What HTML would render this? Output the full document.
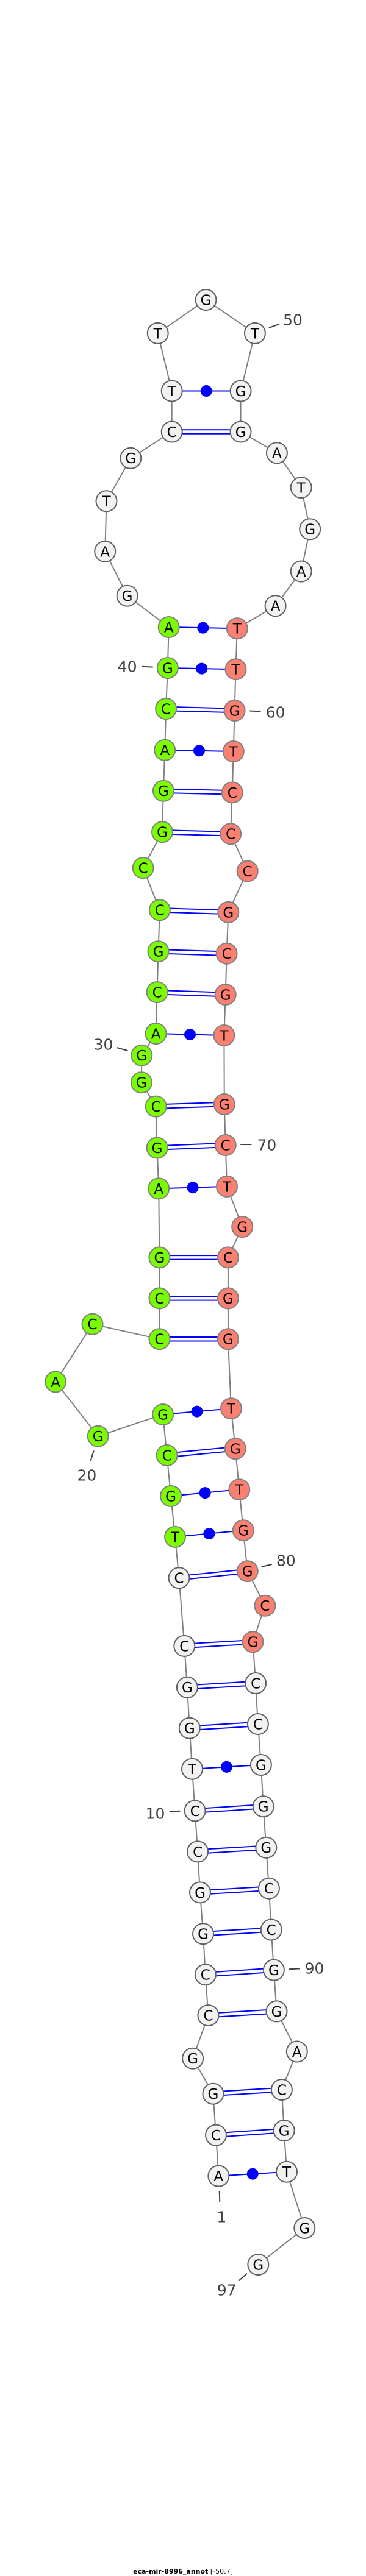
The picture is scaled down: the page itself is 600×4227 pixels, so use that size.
<!DOCTYPE html>
<html><head><meta charset="utf-8"><style>
html,body{margin:0;padding:0;background:#fff;}
svg{display:block;}
.bb{fill:none;stroke:#808080;stroke-width:2;}
.p1{stroke:#0000ff;stroke-width:8.5;}
.p2{stroke:#ffffff;stroke-width:4.5;}
.ps{stroke:#0000ff;stroke-width:2;}
.d{fill:#0000ff;}
.n circle{stroke-width:2;}
.w{fill:#f2f2f2;stroke:#606060;}
.g{fill:#7cfc00;stroke:#808080;}
.r{fill:#fa8072;stroke:#808080;}
.n text{font-family:"DejaVu Sans","Liberation Sans",sans-serif;font-size:23px;text-anchor:middle;fill:#000;}
.lb{font-family:"DejaVu Sans","Liberation Sans",sans-serif;font-size:25px;fill:#404040;text-anchor:middle;dominant-baseline:central;}
.tk{stroke:#404040;stroke-width:2;}
</style></head><body>
<svg width="600" height="4227" viewBox="0 0 600 4227" xmlns="http://www.w3.org/2000/svg">
<polyline class="bb" points="358.3,3570.6 354,3503.6 349.4,3435.7 316.1,3377.7 341.4,3307.1 336.8,3240.2 333,3173.2 328,3105.4 324.1,3038.4 319.6,2971.4 315,2902.7 310.8,2835.7 306.9,2768.8 302.3,2700.9 293.5,2589.3 287,2521.9 280.1,2454.9 273.6,2388 267.1,2321 160.7,2356.7 91.1,2267.4 151.5,2172.8 261.4,2197.3 261.4,2130.4 261.4,2063.4 260.2,1950.4 257.6,1883.5 255.6,1815.6 231.9,1776.3 232.3,1731.7 255.6,1696 257.6,1628.1 259.5,1561.2 261.8,1493.3 234.6,1424.1 266,1365.2 267.9,1297.8 270.2,1230.8 272.1,1163 274.8,1096 276.7,1029 208.6,977.7 172.2,904.9 174.5,822.3 214.3,751.8 281.7,708.5 281.7,641.5 258.7,546.9 337.5,492 417.9,546.9 394.6,641.5 394.6,708.5 453.9,743.3 493.7,800 508.2,868.3 493.7,937.5 451.6,994.2 388.8,1031.3 386.5,1098.2 384.6,1166 382.7,1233 380.8,1300.4 378.1,1368.3 405.7,1429.5 374.3,1496.9 371.6,1564.7 369.7,1632 367.4,1699 367.8,1812 369.7,1879 372,1946.9 397.2,2013 373.9,2063.4 373.9,2130.4 373.9,2197.3 378.9,2311.2 385.8,2377.2 392.3,2444.2 398.8,2511.2 405.7,2578.1 434.4,2634.8 414.5,2694.2 419.1,2762 422.9,2829 427.9,2896 431.7,2964.3 436.3,3031.7 440.9,3098.7 444.7,3166.5 448.9,3232.6 453.5,3300.4 486.8,3366.5 461.9,3429 465.7,3496 470,3563.8 499.3,3656 423.3,3716"/>
<g>
<!-- double pairs -->
<g class="p1">
<line x1="354" y1="3503.6" x2="465.7" y2="3496"/><line x1="349.4" y1="3435.7" x2="461.9" y2="3429"/>
<line x1="341.4" y1="3307.1" x2="453.5" y2="3300.4"/><line x1="336.8" y1="3240.2" x2="448.9" y2="3232.6"/>
<line x1="333" y1="3173.2" x2="444.7" y2="3166.5"/><line x1="328" y1="3105.4" x2="440.9" y2="3098.7"/>
<line x1="324.1" y1="3038.4" x2="436.3" y2="3031.7"/><line x1="319.6" y1="2971.4" x2="431.7" y2="2964.3"/>
<line x1="310.8" y1="2835.7" x2="422.9" y2="2829"/><line x1="306.9" y1="2768.8" x2="419.1" y2="2762"/>
<line x1="302.3" y1="2700.9" x2="414.5" y2="2694.2"/><line x1="293.5" y1="2589.3" x2="405.7" y2="2578.1"/>
<line x1="273.6" y1="2388" x2="385.8" y2="2377.2"/>
<line x1="261.4" y1="2197.3" x2="373.9" y2="2197.3"/><line x1="261.4" y1="2130.4" x2="373.9" y2="2130.4"/>
<line x1="261.4" y1="2063.4" x2="373.9" y2="2063.4"/><line x1="257.6" y1="1883.5" x2="369.7" y2="1879"/>
<line x1="255.6" y1="1815.6" x2="367.8" y2="1812"/><line x1="257.6" y1="1628.1" x2="369.7" y2="1632"/>
<line x1="259.5" y1="1561.2" x2="371.6" y2="1564.7"/><line x1="261.8" y1="1493.3" x2="374.3" y2="1496.9"/>
<line x1="266" y1="1365.2" x2="378.1" y2="1368.3"/><line x1="267.9" y1="1297.8" x2="380.8" y2="1300.4"/>
<line x1="272.1" y1="1163" x2="384.6" y2="1166"/><line x1="281.7" y1="708.5" x2="394.6" y2="708.5"/>
</g>
<g class="p2">
<line x1="354" y1="3503.6" x2="465.7" y2="3496"/><line x1="349.4" y1="3435.7" x2="461.9" y2="3429"/>
<line x1="341.4" y1="3307.1" x2="453.5" y2="3300.4"/><line x1="336.8" y1="3240.2" x2="448.9" y2="3232.6"/>
<line x1="333" y1="3173.2" x2="444.7" y2="3166.5"/><line x1="328" y1="3105.4" x2="440.9" y2="3098.7"/>
<line x1="324.1" y1="3038.4" x2="436.3" y2="3031.7"/><line x1="319.6" y1="2971.4" x2="431.7" y2="2964.3"/>
<line x1="310.8" y1="2835.7" x2="422.9" y2="2829"/><line x1="306.9" y1="2768.8" x2="419.1" y2="2762"/>
<line x1="302.3" y1="2700.9" x2="414.5" y2="2694.2"/><line x1="293.5" y1="2589.3" x2="405.7" y2="2578.1"/>
<line x1="273.6" y1="2388" x2="385.8" y2="2377.2"/>
<line x1="261.4" y1="2197.3" x2="373.9" y2="2197.3"/><line x1="261.4" y1="2130.4" x2="373.9" y2="2130.4"/>
<line x1="261.4" y1="2063.4" x2="373.9" y2="2063.4"/><line x1="257.6" y1="1883.5" x2="369.7" y2="1879"/>
<line x1="255.6" y1="1815.6" x2="367.8" y2="1812"/><line x1="257.6" y1="1628.1" x2="369.7" y2="1632"/>
<line x1="259.5" y1="1561.2" x2="371.6" y2="1564.7"/><line x1="261.8" y1="1493.3" x2="374.3" y2="1496.9"/>
<line x1="266" y1="1365.2" x2="378.1" y2="1368.3"/><line x1="267.9" y1="1297.8" x2="380.8" y2="1300.4"/>
<line x1="272.1" y1="1163" x2="384.6" y2="1166"/><line x1="281.7" y1="708.5" x2="394.6" y2="708.5"/>
</g>
<!-- single dot pairs -->
<g class="ps">
<line x1="358.3" y1="3570.6" x2="470" y2="3563.8"/><line x1="315" y1="2902.7" x2="427.9" y2="2896"/>
<line x1="287" y1="2521.9" x2="398.8" y2="2511.2"/><line x1="280.1" y1="2454.9" x2="392.3" y2="2444.2"/>
<line x1="267.1" y1="2321" x2="378.9" y2="2311.2"/><line x1="260.2" y1="1950.4" x2="372" y2="1946.9"/>
<line x1="255.6" y1="1696" x2="367.4" y2="1699"/><line x1="270.2" y1="1230.8" x2="382.7" y2="1233"/>
<line x1="274.8" y1="1096" x2="386.5" y2="1098.2"/><line x1="276.7" y1="1029" x2="388.8" y2="1031.3"/>
<line x1="281.7" y1="641.5" x2="394.6" y2="641.5"/>
</g>
<g class="d">
<circle cx="414.2" cy="3567.2" r="9.5"/><circle cx="371.5" cy="2899.4" r="9.5"/>
<circle cx="342.9" cy="2516.6" r="9.5"/><circle cx="336.2" cy="2449.6" r="9.5"/>
<circle cx="323" cy="2316.1" r="9.5"/><circle cx="316.1" cy="1948.7" r="9.5"/>
<circle cx="311.5" cy="1697.5" r="9.5"/><circle cx="326.5" cy="1231.9" r="9.5"/>
<circle cx="330.7" cy="1097.1" r="9.5"/><circle cx="332.8" cy="1030.2" r="9.5"/>
<circle cx="338.2" cy="641.5" r="9.5"/>
</g>
</g>
<g class="n">
<g><circle class="w" cx="358.3" cy="3570.6" r="17"/><text x="358.3" y="3579">A</text></g>
<g><circle class="w" cx="354" cy="3503.6" r="17"/><text x="354" y="3512">C</text></g>
<g><circle class="w" cx="349.4" cy="3435.7" r="17"/><text x="349.4" y="3444">G</text></g>
<g><circle class="w" cx="316.1" cy="3377.7" r="17"/><text x="316.1" y="3386">G</text></g>
<g><circle class="w" cx="341.4" cy="3307.1" r="17"/><text x="341.4" y="3315.5">C</text></g>
<g><circle class="w" cx="336.8" cy="3240.2" r="17"/><text x="336.8" y="3248.6">C</text></g>
<g><circle class="w" cx="333" cy="3173.2" r="17"/><text x="333" y="3181.6">G</text></g>
<g><circle class="w" cx="328" cy="3105.4" r="17"/><text x="328" y="3113.8">G</text></g>
<g><circle class="w" cx="324.1" cy="3038.4" r="17"/><text x="324.1" y="3046.8">C</text></g>
<g><circle class="w" cx="319.6" cy="2971.4" r="17"/><text x="319.6" y="2979.8">C</text></g>
<g><circle class="w" cx="315" cy="2902.7" r="17"/><text x="315" y="2911.1">T</text></g>
<g><circle class="w" cx="310.8" cy="2835.7" r="17"/><text x="310.8" y="2844.1">G</text></g>
<g><circle class="w" cx="306.9" cy="2768.8" r="17"/><text x="306.9" y="2777.2">G</text></g>
<g><circle class="w" cx="302.3" cy="2700.9" r="17"/><text x="302.3" y="2709.3">C</text></g>
<g><circle class="w" cx="293.5" cy="2589.3" r="17"/><text x="293.5" y="2597.7">C</text></g>
<g><circle class="g" cx="287" cy="2521.9" r="17"/><text x="287" y="2530.3">T</text></g>
<g><circle class="g" cx="280.1" cy="2454.9" r="17"/><text x="280.1" y="2463.3">G</text></g>
<g><circle class="g" cx="273.6" cy="2388" r="17"/><text x="273.6" y="2396.4">C</text></g>
<g><circle class="g" cx="267.1" cy="2321" r="17"/><text x="267.1" y="2329.4">G</text></g>
<g><circle class="g" cx="160.7" cy="2356.7" r="17"/><text x="160.7" y="2365.1">G</text></g>
<g><circle class="g" cx="91.1" cy="2267.4" r="17"/><text x="91.1" y="2275.8">A</text></g>
<g><circle class="g" cx="151.5" cy="2172.8" r="17"/><text x="151.5" y="2181.2">C</text></g>
<g><circle class="g" cx="261.4" cy="2197.3" r="17"/><text x="261.4" y="2205.7">C</text></g>
<g><circle class="g" cx="261.4" cy="2130.4" r="17"/><text x="261.4" y="2138.8">C</text></g>
<g><circle class="g" cx="261.4" cy="2063.4" r="17"/><text x="261.4" y="2071.8">G</text></g>
<g><circle class="g" cx="260.2" cy="1950.4" r="17"/><text x="260.2" y="1958.8">A</text></g>
<g><circle class="g" cx="257.6" cy="1883.5" r="17"/><text x="257.6" y="1891.9">G</text></g>
<g><circle class="g" cx="255.6" cy="1815.6" r="17"/><text x="255.6" y="1824">C</text></g>
<g><circle class="g" cx="231.9" cy="1776.3" r="17"/><text x="231.9" y="1784.7">G</text></g>
<g><circle class="g" cx="232.3" cy="1731.7" r="17"/><text x="232.3" y="1740.1">G</text></g>
<g><circle class="g" cx="255.6" cy="1696" r="17"/><text x="255.6" y="1704.4">A</text></g>
<g><circle class="g" cx="257.6" cy="1628.1" r="17"/><text x="257.6" y="1636.5">C</text></g>
<g><circle class="g" cx="259.5" cy="1561.2" r="17"/><text x="259.5" y="1569.6">G</text></g>
<g><circle class="g" cx="261.8" cy="1493.3" r="17"/><text x="261.8" y="1501.7">C</text></g>
<g><circle class="g" cx="234.6" cy="1424.1" r="17"/><text x="234.6" y="1432.5">C</text></g>
<g><circle class="g" cx="266" cy="1365.2" r="17"/><text x="266" y="1373.6">G</text></g>
<g><circle class="g" cx="267.9" cy="1297.8" r="17"/><text x="267.9" y="1306.2">G</text></g>
<g><circle class="g" cx="270.2" cy="1230.8" r="17"/><text x="270.2" y="1239.2">A</text></g>
<g><circle class="g" cx="272.1" cy="1163" r="17"/><text x="272.1" y="1171.4">C</text></g>
<g><circle class="g" cx="274.8" cy="1096" r="17"/><text x="274.8" y="1104.4">G</text></g>
<g><circle class="g" cx="276.7" cy="1029" r="17"/><text x="276.7" y="1037.4">A</text></g>
<g><circle class="w" cx="208.6" cy="977.7" r="17"/><text x="208.6" y="986.1">G</text></g>
<g><circle class="w" cx="172.2" cy="904.9" r="17"/><text x="172.2" y="913.3">A</text></g>
<g><circle class="w" cx="174.5" cy="822.3" r="17"/><text x="174.5" y="830.7">T</text></g>
<g><circle class="w" cx="214.3" cy="751.8" r="17"/><text x="214.3" y="760.2">G</text></g>
<g><circle class="w" cx="281.7" cy="708.5" r="17"/><text x="281.7" y="716.9">C</text></g>
<g><circle class="w" cx="281.7" cy="641.5" r="17"/><text x="281.7" y="649.9">T</text></g>
<g><circle class="w" cx="258.7" cy="546.9" r="17"/><text x="258.7" y="555.3">T</text></g>
<g><circle class="w" cx="337.5" cy="492" r="17"/><text x="337.5" y="500.4">G</text></g>
<g><circle class="w" cx="417.9" cy="546.9" r="17"/><text x="417.9" y="555.3">T</text></g>
<g><circle class="w" cx="394.6" cy="641.5" r="17"/><text x="394.6" y="649.9">G</text></g>
<g><circle class="w" cx="394.6" cy="708.5" r="17"/><text x="394.6" y="716.9">G</text></g>
<g><circle class="w" cx="453.9" cy="743.3" r="17"/><text x="453.9" y="751.7">A</text></g>
<g><circle class="w" cx="493.7" cy="800" r="17"/><text x="493.7" y="808.4">T</text></g>
<g><circle class="w" cx="508.2" cy="868.3" r="17"/><text x="508.2" y="876.7">G</text></g>
<g><circle class="w" cx="493.7" cy="937.5" r="17"/><text x="493.7" y="945.9">A</text></g>
<g><circle class="w" cx="451.6" cy="994.2" r="17"/><text x="451.6" y="1002.6">A</text></g>
<g><circle class="r" cx="388.8" cy="1031.3" r="17"/><text x="388.8" y="1039.7">T</text></g>
<g><circle class="r" cx="386.5" cy="1098.2" r="17"/><text x="386.5" y="1106.6">T</text></g>
<g><circle class="r" cx="384.6" cy="1166" r="17"/><text x="384.6" y="1174.4">G</text></g>
<g><circle class="r" cx="382.7" cy="1233" r="17"/><text x="382.7" y="1241.4">T</text></g>
<g><circle class="r" cx="380.8" cy="1300.4" r="17"/><text x="380.8" y="1308.8">C</text></g>
<g><circle class="r" cx="378.1" cy="1368.3" r="17"/><text x="378.1" y="1376.7">C</text></g>
<g><circle class="r" cx="405.7" cy="1429.5" r="17"/><text x="405.7" y="1437.9">C</text></g>
<g><circle class="r" cx="374.3" cy="1496.9" r="17"/><text x="374.3" y="1505.3">G</text></g>
<g><circle class="r" cx="371.6" cy="1564.7" r="17"/><text x="371.6" y="1573.1">C</text></g>
<g><circle class="r" cx="369.7" cy="1632" r="17"/><text x="369.7" y="1640.4">G</text></g>
<g><circle class="r" cx="367.4" cy="1699" r="17"/><text x="367.4" y="1707.4">T</text></g>
<g><circle class="r" cx="367.8" cy="1812" r="17"/><text x="367.8" y="1820.4">G</text></g>
<g><circle class="r" cx="369.7" cy="1879" r="17"/><text x="369.7" y="1887.4">C</text></g>
<g><circle class="r" cx="372" cy="1946.9" r="17"/><text x="372" y="1955.3">T</text></g>
<g><circle class="r" cx="397.2" cy="2013" r="17"/><text x="397.2" y="2021.4">G</text></g>
<g><circle class="r" cx="373.9" cy="2063.4" r="17"/><text x="373.9" y="2071.8">C</text></g>
<g><circle class="r" cx="373.9" cy="2130.4" r="17"/><text x="373.9" y="2138.8">G</text></g>
<g><circle class="r" cx="373.9" cy="2197.3" r="17"/><text x="373.9" y="2205.7">G</text></g>
<g><circle class="r" cx="378.9" cy="2311.2" r="17"/><text x="378.9" y="2319.6">T</text></g>
<g><circle class="r" cx="385.8" cy="2377.2" r="17"/><text x="385.8" y="2385.6">G</text></g>
<g><circle class="r" cx="392.3" cy="2444.2" r="17"/><text x="392.3" y="2452.6">T</text></g>
<g><circle class="r" cx="398.8" cy="2511.2" r="17"/><text x="398.8" y="2519.6">G</text></g>
<g><circle class="r" cx="405.7" cy="2578.1" r="17"/><text x="405.7" y="2586.5">G</text></g>
<g><circle class="r" cx="434.4" cy="2634.8" r="17"/><text x="434.4" y="2643.2">C</text></g>
<g><circle class="r" cx="414.5" cy="2694.2" r="17"/><text x="414.5" y="2702.6">G</text></g>
<g><circle class="w" cx="419.1" cy="2762" r="17"/><text x="419.1" y="2770.4">C</text></g>
<g><circle class="w" cx="422.9" cy="2829" r="17"/><text x="422.9" y="2837.4">C</text></g>
<g><circle class="w" cx="427.9" cy="2896" r="17"/><text x="427.9" y="2904.4">G</text></g>
<g><circle class="w" cx="431.7" cy="2964.3" r="17"/><text x="431.7" y="2972.7">G</text></g>
<g><circle class="w" cx="436.3" cy="3031.7" r="17"/><text x="436.3" y="3040.1">G</text></g>
<g><circle class="w" cx="440.9" cy="3098.7" r="17"/><text x="440.9" y="3107.1">C</text></g>
<g><circle class="w" cx="444.7" cy="3166.5" r="17"/><text x="444.7" y="3174.9">C</text></g>
<g><circle class="w" cx="448.9" cy="3232.6" r="17"/><text x="448.9" y="3241">G</text></g>
<g><circle class="w" cx="453.5" cy="3300.4" r="17"/><text x="453.5" y="3308.8">G</text></g>
<g><circle class="w" cx="486.8" cy="3366.5" r="17"/><text x="486.8" y="3374.9">A</text></g>
<g><circle class="w" cx="461.9" cy="3429" r="17"/><text x="461.9" y="3437.4">C</text></g>
<g><circle class="w" cx="465.7" cy="3496" r="17"/><text x="465.7" y="3504.4">G</text></g>
<g><circle class="w" cx="470" cy="3563.8" r="17"/><text x="470" y="3572.2">T</text></g>
<g><circle class="w" cx="499.3" cy="3656" r="17"/><text x="499.3" y="3664.4">G</text></g>
<g><circle class="w" cx="423.3" cy="3716" r="17"/><text x="423.3" y="3724.4">G</text></g>
</g>
<!-- labels -->
<line class="tk" x1="359.7" y1="3596" x2="360.3" y2="3613"/><text class="lb" x="363.3" y="3638">1</text>
<line class="tk" x1="277.5" y1="2972.5" x2="295.4" y2="2971.8"/><text class="lb" x="254.5" y="2976">10</text>
<line class="tk" x1="153.8" y1="2380.4" x2="148.5" y2="2396.9"/><text class="lb" x="142.4" y="2421">20</text>
<line class="tk" x1="191.4" y1="1719" x2="209.3" y2="1724"/><text class="lb" x="169.5" y="1714">30</text>
<line class="tk" x1="232" y1="1093.8" x2="250.7" y2="1094.6"/><text class="lb" x="208.6" y="1094">40</text>
<line class="tk" x1="440.9" y1="538" x2="458" y2="531.7"/><text class="lb" x="480" y="525">50</text>
<line class="tk" x1="409.5" y1="1166.5" x2="427.5" y2="1167.4"/><text class="lb" x="451.6" y="1169">60</text>
<line class="tk" x1="394.2" y1="1878" x2="412.5" y2="1878"/><text class="lb" x="437.4" y="1879">70</text>
<line class="tk" x1="428.6" y1="2571" x2="445.8" y2="2567"/><text class="lb" x="468.8" y="2561">80</text>
<line class="tk" x1="473.4" y1="3231.3" x2="491.8" y2="3230.4"/><text class="lb" x="515.5" y="3230">90</text>
<line class="tk" x1="405" y1="3730.7" x2="391" y2="3742.7"/><text class="lb" x="371.7" y="3758">97</text>
<text x="300" y="4223" text-anchor="middle" style="font-family:'DejaVu Sans','Liberation Sans',sans-serif;font-size:11px;fill:#000;"><tspan font-weight="bold">eca-mir-8996_annot</tspan> [-50.7]</text>
</svg>
</body></html>
